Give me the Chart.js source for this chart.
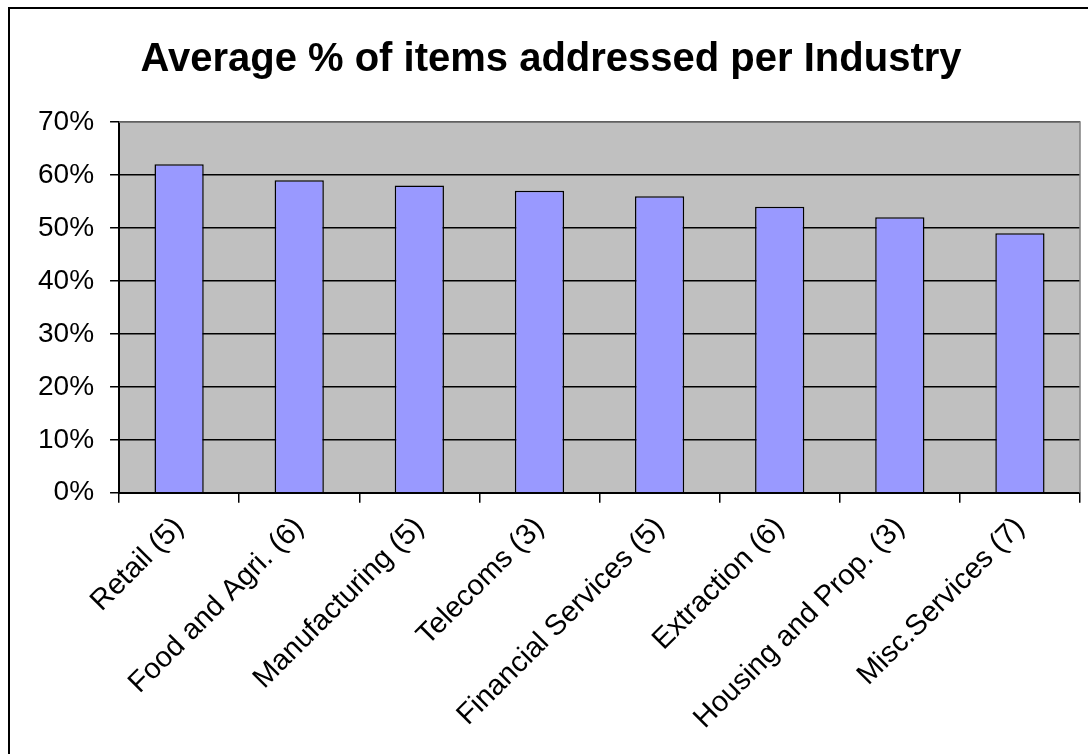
<!DOCTYPE html>
<html>
<head>
<meta charset="utf-8">
<script src="https://cdn.jsdelivr.net/npm/chart.js@4"></script>
<style>
  html, body { margin: 0; padding: 0; background: #fff; }
  #wrap { width: 1088px; height: 754px; position: relative; }
</style>
</head>
<body>
<div id="wrap"><canvas id="industryChart" width="1088" height="754"></canvas></div>
<script>
// data
const industries = ['Retail (5)', 'Food and Agri. (6)', 'Manufacturing (5)', 'Telecoms (3)',
  'Financial Services (5)', 'Extraction (6)', 'Housing and Prop. (3)', 'Misc.Services (7)'];
const avgAddressed = [62, 59, 58, 57, 56, 54, 52, 49];
const yTicks = [0, 10, 20, 30, 40, 50, 60, 70];

// grey plot background + frame like the old excel chart
const plotFrame = {
  id: 'plotFrame',
  beforeDraw(chart) {
    const { ctx, chartArea: a } = chart;
    ctx.save();
    ctx.fillStyle = '#c0c0c0';
    ctx.fillRect(a.left, a.top, a.right - a.left, a.bottom - a.top);
    ctx.restore();
  },
  afterDraw(chart) {
    const { ctx, chartArea: a } = chart;
    ctx.save();
    ctx.strokeStyle = '#808080';
    ctx.lineWidth = 1.5;
    ctx.beginPath();
    ctx.moveTo(a.left, a.top);
    ctx.lineTo(a.right, a.top);
    ctx.lineTo(a.right, a.bottom);
    ctx.stroke();
    // outer chart border (only top and left visible in the crop)
    ctx.strokeStyle = '#000';
    ctx.lineWidth = 2;
    ctx.beginPath();
    ctx.moveTo(9, 754);
    ctx.lineTo(9, 8);
    ctx.lineTo(1088, 8);
    ctx.stroke();
    ctx.restore();
  }
};

Chart.defaults.font.family = 'Arial, "Liberation Sans", sans-serif';
Chart.defaults.color = '#000';

new Chart(document.getElementById('industryChart'), {
  type: 'bar',
  data: {
    labels: industries,
    datasets: [{
      data: avgAddressed,
      backgroundColor: '#9999ff',
      borderColor: '#000',
      borderWidth: 1.5,
      categoryPercentage: 1,
      barPercentage: 0.41
    }]
  },
  options: {
    responsive: false,
    animation: false,
    layout: { padding: { left: 22, right: 8, top: 0, bottom: 10 } },
    plugins: {
      legend: { display: false },
      tooltip: { enabled: false },
      title: {
        display: true,
        text: 'Average % of items addressed per Industry',
        font: { size: 40, weight: 'bold' },
        padding: { top: 36, bottom: 38 }
      }
    },
    scales: {
      x: {
        grid: { offset: true, drawOnChartArea: false, color: '#000', lineWidth: 1.5, tickLength: 10 },
        border: { color: '#000', width: 2 },
        ticks: { font: { size: 29 }, minRotation: 45, maxRotation: 45, padding: 8 }
      },
      y: {
        min: 0,
        max: 70,
        afterBuildTicks: (scale) => { scale.ticks = yTicks.map(v => ({ value: v })); },
        grid: { color: '#000', lineWidth: 1.5, tickLength: 9 },
        border: { color: '#000', width: 2 },
        ticks: { font: { size: 28 }, padding: 16, callback: (v) => v + '%' }
      }
    }
  },
  plugins: [plotFrame]
});
</script>
</body>
</html>
